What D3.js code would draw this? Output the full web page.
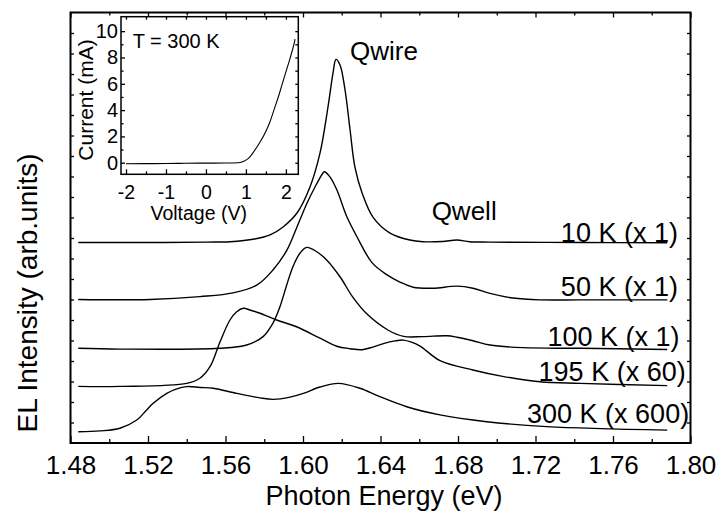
<!DOCTYPE html>
<html>
<head>
<meta charset="utf-8">
<script src="https://cdn.jsdelivr.net/npm/d3@7"></script>
<style>
  body { margin: 0; background: #fff; }
  svg { display: block; font-family: "Liberation Sans", Arial, sans-serif; }
</style>
</head>
<body>
<svg id="canvas" width="722" height="514"></svg>
<script>
// EL spectra, [photon energy (eV), intensity incl. offset (arb.)]
let spec10K = [[1.484, 9.78], [1.52, 9.78], [1.55, 9.8], [1.5623, 9.82], [1.575, 9.95], [1.583, 10.15],
  [1.5897, 10.54], [1.5969, 11.22], [1.6036, 12.49], [1.6088, 14.15], [1.6129, 16.39], [1.6155, 18.05],
  [1.617, 18.71], [1.6191, 18.44], [1.6217, 17.22], [1.6243, 15.27], [1.6268, 13.46], [1.6305, 12.2],
  [1.6361, 11.02], [1.6449, 10.24], [1.6552, 9.9], [1.6619, 9.82], [1.672, 9.83], [1.6795, 9.9],
  [1.686, 9.82], [1.6965, 9.8], [1.743, 9.78], [1.788, 9.77]]

let spec50K = [[1.484, 7.0], [1.521, 7.0], [1.5468, 7.14], [1.5639, 7.32], [1.5763, 7.71], [1.5845, 8.44],
  [1.5917, 9.41], [1.5969, 10.54], [1.6021, 11.71], [1.6062, 12.49], [1.6103, 13.17], [1.611, 13.23],
  [1.6139, 12.98], [1.6175, 12.34], [1.6227, 11.02], [1.6279, 10.05], [1.6356, 8.8], [1.6434, 8.2],
  [1.65, 7.85], [1.6568, 7.6], [1.6671, 7.55], [1.6795, 7.65], [1.6877, 7.55], [1.6965, 7.3],
  [1.7084, 7.07], [1.7223, 6.98], [1.743, 6.98], [1.788, 6.98]]

let spec100K = [[1.484, 4.62], [1.5055, 4.58], [1.5572, 4.62], [1.5709, 4.78], [1.5794, 5.19], [1.5845, 5.85],
  [1.5881, 6.65], [1.5916, 7.71], [1.5948, 8.6], [1.5985, 9.27], [1.6019, 9.54], [1.6071, 9.33],
  [1.6122, 8.93], [1.6191, 8.11], [1.6258, 7.1], [1.6329, 6.3], [1.644, 5.5], [1.652, 5.2],
  [1.6619, 5.19], [1.6743, 5.23], [1.6795, 5.16], [1.6877, 4.99], [1.6965, 4.78], [1.7136, 4.65],
  [1.743, 4.62], [1.788, 4.56]]

let spec195K = [[1.484, 2.76], [1.5055, 2.76], [1.54, 2.91], [1.5468, 3.16], [1.552, 3.72], [1.5572, 4.94],
  [1.5623, 6.0], [1.5658, 6.4], [1.5692, 6.57], [1.5726, 6.49], [1.5778, 6.33], [1.5864, 6.0],
  [1.5967, 5.67], [1.6088, 5.11], [1.6174, 4.72], [1.6243, 4.6], [1.6305, 4.55], [1.6361, 4.68],
  [1.6415, 4.85], [1.6475, 4.98], [1.6518, 5.02], [1.656, 4.92], [1.6604, 4.73], [1.6707, 4.02],
  [1.6877, 3.56], [1.703, 3.25], [1.7223, 2.99], [1.743, 2.91], [1.788, 2.8]]

let spec300K = [[1.484, 0.55], [1.4952, 0.59], [1.5055, 0.72], [1.5142, 1.12], [1.5193, 1.61], [1.5227, 1.94],
  [1.5297, 2.42], [1.5345, 2.63], [1.54, 2.75], [1.5468, 2.71], [1.5537, 2.67], [1.5658, 2.42],
  [1.5778, 2.2], [1.5847, 2.13], [1.5933, 2.24], [1.6002, 2.42], [1.6088, 2.73], [1.6182, 2.91],
  [1.6294, 2.67], [1.6397, 2.26], [1.6535, 1.77], [1.6707, 1.37], [1.6948, 1.04], [1.7258, 0.8],
  [1.788, 0.63]]

let seriesLabels = ["10 K (x 1)", "50 K (x 1)", "100 K (x 1)", "195 K (x 60)", "300 K (x 600)"]

// inset I-V at T = 300 K, [voltage (V), current (mA)]
let ivCurve = [[-2, -0.08], [-1.5, -0.07], [-1, -0.06], [-0.5, -0.04], [0, -0.03], [0.5, -0.02],
  [0.8, 0.0], [0.9, 0.05], [1.0, 0.2], [1.1, 0.45], [1.2, 0.85], [1.35, 1.55], [1.5, 2.4],
  [1.6, 3.1], [1.7, 4.0], [1.8, 4.9], [1.9, 5.9], [2.0, 6.9], [2.1, 7.9], [2.2, 9.0], [2.23, 9.4]]

let xMajor = [1.48, 1.52, 1.56, 1.60, 1.64, 1.68, 1.72, 1.76, 1.80]
let xMinor = [1.50, 1.54, 1.58, 1.62, 1.66, 1.70, 1.74, 1.78]
let ivXTicks = [-2, -1, 0, 1, 2]
let ivYTicks = [0, 2, 4, 6, 8, 10]

let svg = d3.select("#canvas")
let font = "'Liberation Sans', Arial, sans-serif"

let x = d3.scaleLinear().domain([1.48, 1.80]).range([70.5, 690.5])
let y = d3.scaleLinear().domain([0, 21]).range([443, 12.5])

let styleAxis = (g) => {
    g.select(".domain").remove()
    g.selectAll("line").attr("stroke", "#000").attr("stroke-width", 1.3)
    g.selectAll("text").attr("fill", "#000").style("font-family", font)
}

// bottom / top ticks
svg.append("g").attr("transform", "translate(0,443)")
    .call(d3.axisBottom(x).tickValues(xMajor).tickSize(-7).tickPadding(13).tickFormat(d3.format(".2f")))
    .call(styleAxis)
    .selectAll("text").style("font-size", "26px")
svg.append("g").attr("transform", "translate(0,443)")
    .call(d3.axisBottom(x).tickValues(xMinor).tickSize(-4).tickFormat(""))
    .call(styleAxis)
svg.append("g").attr("transform", "translate(0,12.5)")
    .call(d3.axisTop(x).tickValues(xMajor).tickSize(-5).tickFormat(""))
    .call(styleAxis)
svg.append("g").attr("transform", "translate(0,12.5)")
    .call(d3.axisTop(x).tickValues(xMinor).tickSize(-3).tickFormat(""))
    .call(styleAxis)

// left / right ticks, no labels
svg.append("g").attr("transform", "translate(70.5,0)")
    .call(d3.axisLeft(y).tickValues(d3.range(1, 21)).tickSize(-3.5).tickFormat(""))
    .call(styleAxis)
svg.append("g").attr("transform", "translate(690.5,0)")
    .call(d3.axisRight(y).tickValues(d3.range(1, 21)).tickSize(-3.5).tickFormat(""))
    .call(styleAxis)

svg.append("rect")
    .attr("x", 70.5).attr("y", 12.5).attr("width", 620).attr("height", 430.5)
    .attr("fill", "none").attr("stroke", "#000").attr("stroke-width", 2)

let line = d3.line()
    .x(d => x(d[0]))
    .y(d => y(d[1]))
    .curve(d3.curveCatmullRom.alpha(0.5))

let allSpectra = [spec10K, spec50K, spec100K, spec195K, spec300K]

svg.selectAll(".spec")
    .data(allSpectra)
    .enter()
    .append("path")
    .attr("class", "spec")
    .attr("d", d => line(d))
    .attr("fill", "none")
    .attr("stroke", "#000")
    .attr("stroke-width", 1.4)

// curve labels (end x in eV, baseline in arb. units)
let labelAt = [[1.7935, 9.82], [1.7935, 7.17], [1.7943, 4.73], [1.7975, 3.04], [1.7993, 0.99]]
svg.selectAll(".lab")
    .data(seriesLabels)
    .enter()
    .append("text")
    .attr("class", "lab")
    .attr("x", (d, i) => x(labelAt[i][0]))
    .attr("y", (d, i) => y(labelAt[i][1]))
    .attr("text-anchor", "end")
    .style("font-size", "27px")
    .text(d => d)

svg.append("text").attr("x", x(1.6243)).attr("y", 59.5)
    .style("font-size", "26px").text("Qwire")
svg.append("text").attr("x", x(1.6664)).attr("y", 220)
    .style("font-size", "26px").text("Qwell")

// axis titles
svg.append("text")
    .attr("x", 384).attr("y", 505)
    .attr("text-anchor", "middle")
    .style("font-size", "27px")
    .text("Photon Energy (eV)")
svg.append("text")
    .attr("transform", "translate(36.5,293) rotate(-90)")
    .attr("text-anchor", "middle")
    .style("font-size", "28px")
    .text("EL Intensity (arb.units)")

// ---- inset ----
let ix = d3.scaleLinear().domain([-2.125, 2.31]).range([121, 298.3])
let iy = d3.scaleLinear().domain([-0.88, 11.1]).range([174.3, 16.7])
let inset = svg.append("g")

inset.append("rect")
    .attr("x", 121).attr("y", 16.7).attr("width", 177.3).attr("height", 157.6)
    .attr("fill", "#fff")

inset.append("g").attr("transform", "translate(0,174.3)")
    .call(d3.axisBottom(ix).tickValues(ivXTicks).tickSize(-5).tickPadding(11).tickFormat(d => String(d)))
    .call(styleAxis)
    .selectAll("text").style("font-size", "19.5px")
inset.append("g").attr("transform", "translate(0,174.3)")
    .call(d3.axisBottom(ix).tickValues([-1.5, -0.5, 0.5, 1.5]).tickSize(-3).tickFormat(""))
    .call(styleAxis)
inset.append("g").attr("transform", "translate(0,16.7)")
    .call(d3.axisTop(ix).tickValues(d3.range(-2, 2.5, 0.5)).tickSize(-3).tickFormat(""))
    .call(styleAxis)
inset.append("g").attr("transform", "translate(121,0)")
    .call(d3.axisLeft(iy).tickValues(ivYTicks).tickSize(-4).tickPadding(3).tickFormat(d => String(d)))
    .call(styleAxis)
    .selectAll("text").style("font-size", "20px")
inset.append("g").attr("transform", "translate(121,0)")
    .call(d3.axisLeft(iy).tickValues([1, 3, 5, 7, 9]).tickSize(-2.5).tickFormat(""))
    .call(styleAxis)
inset.append("g").attr("transform", "translate(298.3,0)")
    .call(d3.axisRight(iy).tickValues(d3.range(0, 11)).tickSize(-3).tickFormat(""))
    .call(styleAxis)

inset.append("rect")
    .attr("x", 121).attr("y", 16.7).attr("width", 177.3).attr("height", 157.6)
    .attr("fill", "none").attr("stroke", "#000").attr("stroke-width", 1.5)

inset.append("path")
    .datum(ivCurve)
    .attr("d", d3.line().x(d => ix(d[0])).y(d => iy(d[1])).curve(d3.curveMonotoneX))
    .attr("fill", "none")
    .attr("stroke", "#000")
    .attr("stroke-width", 1.1)

inset.append("text").attr("x", 132.7).attr("y", 48.3)
    .style("font-size", "20px").text("T = 300 K")
inset.append("text")
    .attr("x", 198.7).attr("y", 220)
    .attr("text-anchor", "middle")
    .style("font-size", "19.5px")
    .text("Voltage (V)")
inset.append("text")
    .attr("transform", "translate(93,100) rotate(-90)")
    .attr("text-anchor", "middle")
    .style("font-size", "21px")
    .text("Current (mA)")
</script>
</body>
</html>
